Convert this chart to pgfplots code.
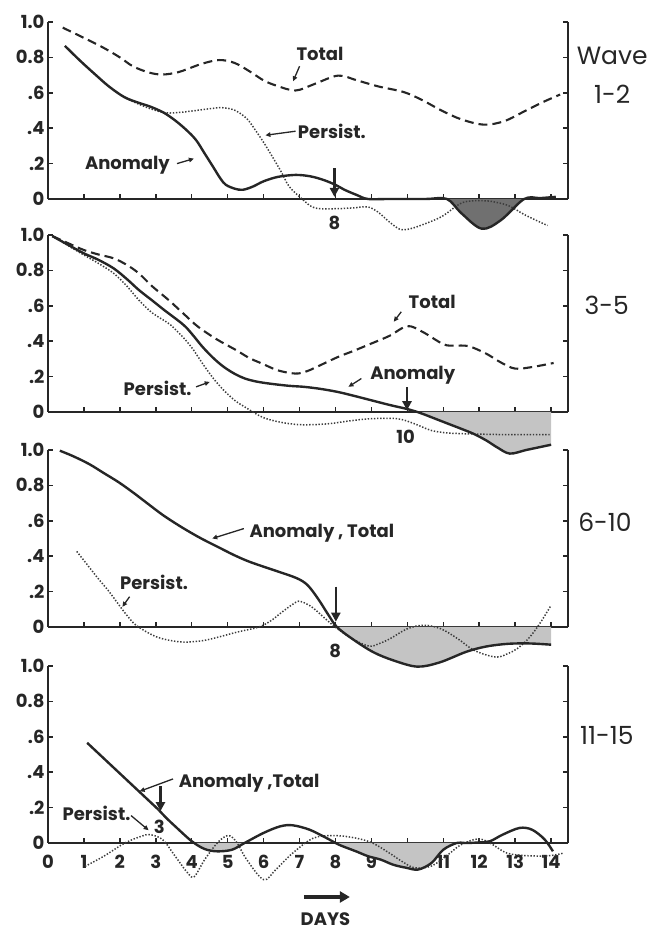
\documentclass[border=0pt]{standalone}
\usepackage{fontspec}
\setmainfont{Poppins}
\newcommand\medfont{\bfseries}
\usepackage{pgfplots}
\pgfplotsset{compat=1.18}
\usetikzlibrary{arrows.meta}
\definecolor{ink}{HTML}{262626}
\definecolor{darkfill}{HTML}{707070}
\definecolor{lightfill}{HTML}{C4C4C4}
\newcommand\lab{\medfont\fontsize{18}{18}\selectfont}
\newcommand\rlab{\fontsize{25}{25}\selectfont}
\pgfplotsset{
  panel/.style={width=520pt,height=177pt,scale only axis,xmin=0,xmax=14.47,ymin=0,ymax=1,clip=false,
    axis x line*=bottom, axis y line*=box,
    xtick={0,...,14}, xticklabels={},
    ytick={0,0.2,0.4,0.6,0.8,1}, yticklabels={0,.2,.4,.6,0.8,1.0},
    ytick pos=both, yticklabel pos=left,
    tick align=inside, major tick length=5pt,
    axis line style={line width=1.8pt, ink},
    every tick/.style={line width=1.5pt, ink},
    yticklabel style={font=\lab, text=ink},
    xticklabel style={font=\lab, text=ink, yshift=-9pt},
    /pgf/number format/assume math mode=true,
  },
  tot/.style={ink, line width=2.1pt, dash pattern=on 9pt off 5pt, smooth, tension=0.55},
  ano/.style={ink, line width=2.4pt, smooth, tension=0.55},
  per/.style={ink!90, line width=1.5pt, dash pattern=on 1.4pt off 1.7pt, smooth, tension=0.55},
  shd/.style={draw=none, fill=#1, smooth, tension=0.55},
}
\tikzset{
  darr/.style={ink, line width=2.6pt, -{Triangle[length=9pt,width=9pt]}},
  sarr/.style={ink, line width=1.3pt, -{Triangle[length=5pt,width=4.5pt]}},
}
\begin{document}
\begin{tikzpicture}
\useasboundingbox (0,0) rectangle (661pt,931pt);
% ---------------- Panel 1: Wave 1-2
\begin{axis}[panel, at={(48pt,732pt)}, anchor=south west]
\addplot[shd=darkfill] coordinates {(11.1,0) (11.5,-0.08) (12.07,-0.168) (12.6,-0.12) (13.25,0)} \closedcycle;
\addplot[tot] coordinates {(0.41,0.968) (1.0,0.91) (1.53,0.856) (2.0,0.8) (2.36,0.75) (2.8,0.715) (3.18,0.703) (3.6,0.715) (3.89,0.735) (4.3,0.765) (4.77,0.785) (5.2,0.768) (5.65,0.716) (6.0,0.67) (6.36,0.64) (6.89,0.613) (7.42,0.65) (8.07,0.697) (8.6,0.67) (9.19,0.636) (9.9,0.604) (10.4,0.56) (10.95,0.50) (11.5,0.45) (12.13,0.42) (12.7,0.44) (13.3,0.50) (13.8,0.55) (14.25,0.59)};
\addplot[per] coordinates {(0.47,0.865) (0.9,0.78) (1.3,0.706) (1.7,0.635) (2.12,0.576) (2.59,0.53) (3.0,0.5) (3.3,0.486) (3.7,0.49) (4.12,0.5) (4.5,0.51) (4.83,0.516) (5.1,0.508) (5.3,0.49) (5.55,0.45) (5.77,0.389) (6.0,0.32) (6.24,0.24) (6.5,0.15) (6.71,0.071) (7.07,0.0) (7.42,-0.05) (8.0,-0.055) (8.5,-0.05) (8.9,-0.045) (9.19,-0.075) (9.5,-0.13) (9.78,-0.17) (10.0,-0.172) (10.36,-0.15) (10.95,-0.1) (11.54,-0.02) (12.13,-0.01) (12.5,-0.02) (12.84,-0.04) (13.3,-0.093) (13.9,-0.15)};
\addplot[ano] coordinates {(0.47,0.865) (0.9,0.78) (1.3,0.706) (1.7,0.635) (2.12,0.576) (2.5,0.545) (2.83,0.523) (3.2,0.49) (3.53,0.445) (3.85,0.39) (4.12,0.333) (4.35,0.26) (4.59,0.183) (4.8,0.115) (4.95,0.08) (5.2,0.058) (5.42,0.052) (5.7,0.07) (6.0,0.1) (6.4,0.125) (6.89,0.136) (7.3,0.128) (7.66,0.108) (8.0,0.08) (8.25,0.052) (8.6,0.022) (8.9,0.0) (9.5,0.0) (10.5,0.0) (11.1,0.0) (11.5,-0.08) (12.07,-0.168) (12.6,-0.12) (13.25,0.0) (13.7,0.005) (14.13,0.012)};
\draw[darr] (axis cs:7.97,0.174) -- (axis cs:7.97,0.012);
\node[font=\lab, text=ink] at (axis cs:7.97,-0.135) {8};
\node[font=\lab, text=ink] at (axis cs:7.57,0.82) {Total};
\draw[sarr] (axis cs:7.0,0.75) -- (axis cs:6.82,0.665);
\node[font=\lab, text=ink] at (axis cs:7.9,0.38) {Persist.};
\draw[sarr] (axis cs:6.89,0.383) -- (axis cs:6.05,0.36);
\node[font=\lab, text=ink] at (axis cs:2.21,0.193) {Anomaly};
\draw[sarr] (axis cs:3.59,0.2) -- (axis cs:4.06,0.228);
\node[font=\rlab, text=ink] at (axis cs:15.7,0.81) {Wave};
\node[font=\rlab, text=ink] at (axis cs:15.7,0.59) {1-2};
\end{axis}
% ---------------- Panel 2: 3-5
\begin{axis}[panel, at={(48pt,519pt)}, anchor=south west]
\addplot[shd=lightfill] coordinates {(10.3,0) (10.42,-0.01) (10.8,-0.04) (11.13,-0.066) (11.5,-0.095) (11.84,-0.123) (12.19,-0.16) (12.5,-0.2) (12.85,-0.235) (13.3,-0.215) (13.65,-0.2) (14.0,-0.185)} \closedcycle;
\addplot[tot] coordinates {(0.12,0.994) (0.6,0.95) (1.0,0.915) (1.4,0.89) (1.83,0.868) (2.2,0.83) (2.53,0.783) (2.9,0.71) (3.36,0.632) (3.8,0.55) (4.18,0.481) (4.7,0.41) (5.24,0.349) (5.6,0.305) (5.95,0.274) (6.4,0.235) (6.89,0.217) (7.2,0.23) (7.48,0.255) (8.07,0.311) (8.5,0.345) (9.0,0.387) (9.5,0.43) (10.0,0.485) (10.42,0.453) (11.0,0.383) (11.3,0.375) (11.7,0.372) (12.19,0.33) (12.6,0.28) (13.0,0.245) (13.5,0.255) (14.07,0.277)};
\addplot[per] coordinates {(0.12,0.994) (0.6,0.935) (1.0,0.887) (1.4,0.84) (1.83,0.783) (2.2,0.71) (2.53,0.632) (2.9,0.56) (3.36,0.5) (3.6,0.455) (3.83,0.406) (4.05,0.35) (4.3,0.274) (4.6,0.19) (4.89,0.123) (5.2,0.065) (5.48,0.028) (5.95,-0.028) (6.4,-0.055) (6.89,-0.07) (7.3,-0.072) (7.83,-0.066) (8.4,-0.05) (9.0,-0.038) (9.72,-0.038) (10.19,-0.066) (10.66,-0.104) (11.1,-0.118) (11.6,-0.123) (12.2,-0.126) (12.78,-0.128) (13.4,-0.128) (13.96,-0.128)};
\addplot[ano] coordinates {(0.12,0.994) (0.6,0.94) (1.0,0.896) (1.4,0.86) (1.83,0.811) (2.2,0.75) (2.53,0.689) (2.9,0.63) (3.24,0.575) (3.6,0.52) (3.83,0.481) (4.05,0.43) (4.3,0.368) (4.6,0.305) (4.89,0.255) (5.2,0.215) (5.48,0.189) (5.8,0.172) (6.18,0.16) (6.7,0.148) (7.13,0.142) (7.6,0.13) (8.07,0.113) (8.5,0.092) (9.0,0.066) (9.5,0.04) (9.95,0.019) (10.2,0.005) (10.42,-0.01) (10.8,-0.04) (11.13,-0.066) (11.5,-0.095) (11.84,-0.123) (12.19,-0.16) (12.5,-0.2) (12.85,-0.235) (13.3,-0.215) (13.65,-0.2) (14.0,-0.185)};
\draw[darr] (axis cs:9.99,0.14) -- (axis cs:9.99,0.01);
\node[font=\lab, text=ink] at (axis cs:9.95,-0.14) {10};
\node[font=\lab, text=ink] at (axis cs:10.69,0.623) {Total};
\draw[sarr] (axis cs:9.83,0.566) -- (axis cs:9.62,0.51);
\node[font=\lab, text=ink] at (axis cs:10.15,0.208) {Anomaly};
\draw[sarr] (axis cs:8.72,0.189) -- (axis cs:8.36,0.142);
\node[font=\lab, text=ink] at (axis cs:3.05,0.136) {Persist.};
\draw[sarr] (axis cs:4.12,0.142) -- (axis cs:4.5,0.17);
\node[font=\rlab, text=ink] at (axis cs:15.55,0.6) {3-5};
\end{axis}
% ---------------- Panel 3: 6-10
\begin{axis}[panel, at={(48pt,304pt)}, anchor=south west]
\addplot[shd=lightfill] coordinates {(8.04,0) (8.46,-0.066) (9.05,-0.142) (9.63,-0.19) (10.28,-0.224) (10.9,-0.2) (11.64,-0.14) (12.2,-0.11) (12.8,-0.095) (13.4,-0.093) (14.0,-0.1)} \closedcycle;
\addplot[per] coordinates {(0.8,0.427) (1.1,0.35) (1.39,0.275) (1.7,0.2) (1.98,0.123) (2.2,0.065) (2.45,0.01) (2.92,-0.047) (3.3,-0.072) (3.75,-0.085) (4.2,-0.08) (4.57,-0.066) (5.28,-0.028) (5.87,0.0) (6.2,0.035) (6.46,0.076) (6.75,0.12) (6.98,0.146) (7.2,0.13) (7.4,0.104) (7.7,0.05) (7.99,0.0) (8.46,-0.066) (8.93,-0.108) (9.2,-0.095) (9.52,-0.066) (10.0,-0.01) (10.46,0.01) (10.93,-0.01) (11.4,-0.066) (11.87,-0.133) (12.46,-0.17) (12.8,-0.15) (13.05,-0.123) (13.3,-0.08) (13.52,-0.028) (13.75,0.04) (14.0,0.123)};
\addplot[ano] coordinates {(0.33,0.996) (0.7,0.965) (1.15,0.92) (1.55,0.87) (1.98,0.816) (2.4,0.755) (2.8,0.693) (3.2,0.632) (3.63,0.575) (4.0,0.53) (4.33,0.493) (4.75,0.45) (5.16,0.408) (5.55,0.373) (5.98,0.342) (6.45,0.31) (6.93,0.275) (7.22,0.237) (7.51,0.161) (7.81,0.066) (8.04,0.0) (8.46,-0.066) (9.05,-0.142) (9.63,-0.19) (10.28,-0.224) (10.9,-0.2) (11.64,-0.14) (12.2,-0.11) (12.8,-0.095) (13.4,-0.093) (14.0,-0.1)};
\draw[darr] (axis cs:8.01,0.228) -- (axis cs:8.01,0.03);
\node[font=\lab, text=ink] at (axis cs:7.99,-0.133) {8};
\node[font=\lab, text=ink, anchor=west] at (axis cs:5.51,0.531) {Anomaly , Total};
\draw[sarr] (axis cs:5.45,0.556) -- (axis cs:4.57,0.5);
\node[font=\lab, text=ink] at (axis cs:2.95,0.252) {Persist.};
\draw[sarr] (axis cs:2.27,0.171) -- (axis cs:2.07,0.114);
\node[font=\rlab, text=ink] at (axis cs:15.5,0.59) {6-10};
\end{axis}
% ---------------- Panel 4: 11-15
\begin{axis}[panel, at={(48pt,88pt)}, anchor=south west,
  xticklabels={0,1,2,3,4,5,6,7,8,9,10,11,12,13,14}]
\addplot[shd=lightfill] coordinates {(4.05,0) (4.36,-0.034) (4.71,-0.047) (5.12,-0.038) (5.47,0)} \closedcycle;
\addplot[shd=lightfill] coordinates {(8.05,0) (8.57,-0.047) (8.91,-0.075) (9.26,-0.094) (9.61,-0.123) (9.97,-0.14) (10.3,-0.15) (10.67,-0.113) (11.0,-0.038) (11.37,0)} \closedcycle;
\addplot[per] coordinates {(1.03,-0.132) (1.55,-0.075) (2.14,0.0) (2.6,0.038) (2.84,0.047) (3.19,0.019) (3.54,-0.075) (3.89,-0.17) (4.07,-0.19) (4.36,-0.094) (4.71,0.0) (5.0,0.042) (5.23,0.01) (5.53,-0.094) (6.0,-0.207) (6.34,-0.15) (6.81,-0.057) (7.39,0.028) (7.98,0.042) (8.56,0.028) (9.03,0.0) (9.5,-0.057) (9.85,-0.104) (10.2,-0.14) (10.67,-0.13) (11.13,-0.066) (11.49,-0.01) (11.96,0.023) (12.3,0.0) (12.77,-0.057) (13.35,-0.072) (13.94,-0.072) (14.35,-0.057)};
\addplot[ink, line width=2.4pt] coordinates {(1.09,0.566) (3.07,0.189)};
\addplot[ano] coordinates {(3.07,0.189) (3.3,0.14) (3.54,0.094) (4.0,0.01) (4.36,-0.034) (4.71,-0.047) (5.12,-0.038) (5.47,0.0) (6.0,0.057) (6.46,0.094) (6.81,0.1) (7.28,0.075) (7.75,0.028) (8.1,-0.01) (8.57,-0.047) (8.91,-0.075) (9.26,-0.094) (9.61,-0.123) (9.97,-0.14) (10.3,-0.15) (10.67,-0.113) (11.0,-0.038) (11.37,0.0) (11.6,0.0) (12.0,0.003) (12.3,0.01) (12.65,0.047) (13.12,0.085) (13.47,0.075) (13.82,0.02) (14.05,-0.047)};
\draw[darr] (axis cs:3.13,0.32) -- (axis cs:3.13,0.18);
\node[font=\lab, text=ink] at (axis cs:3.1,0.094) {3};
\node[font=\lab, text=ink, anchor=west] at (axis cs:3.54,0.34) {Anomaly ,Total};
\draw[sarr] (axis cs:3.48,0.362) -- (axis cs:2.55,0.292);
\node[font=\lab, text=ink] at (axis cs:1.35,0.17) {Persist.};
\draw[sarr] (axis cs:2.31,0.155) -- (axis cs:2.8,0.072);
\node[font=\rlab, text=ink] at (axis cs:15.55,0.61) {11-15};
\draw[ink, line width=3.5pt, -{Triangle[length=10pt,width=11pt]}] (axis cs:7.12,-0.305) -- (axis cs:8.4,-0.305);
\node[font=\lab, text=ink] at (axis cs:7.72,-0.43) {DAYS};
\end{axis}
\end{tikzpicture}
\end{document}
